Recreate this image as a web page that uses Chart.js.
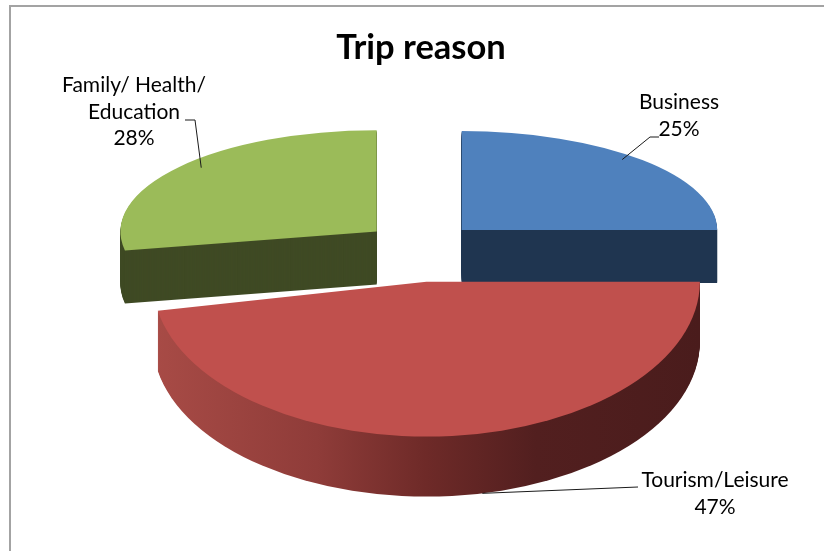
<!DOCTYPE html>
<html>
<head>
<meta charset="utf-8">
<script src="https://cdn.jsdelivr.net/npm/chart.js@4"></script>
<style>
  html, body { margin: 0; padding: 0; background: #ffffff; }
  #wrap { width: 824px; height: 551px; position: relative; }
  canvas { display: block; }
</style>
</head>
<body>
<div id="wrap"><canvas id="c" width="824" height="551"></canvas></div>
<script>
// ---- data ----
const categories = ['Business', 'Tourism/Leisure', 'Family/ Health/ Education'];
const labelNameLines = [['Business'], ['Tourism/Leisure'], ['Family/ Health/', 'Education']];
const values = [25, 47, 28];
const topColors = ['#4F81BD', '#C0504D', '#9BBB59'];
const sideColors = ['#1F3550', null, '#3F4A24'];
const redSideStops = [[0, '#A84B46'], [0.3, '#8F3C39'], [0.5, '#6E2A28'], [0.7, '#521F1F'], [1, '#4A1C1C']];

// ---- 3D look (styles) ----
const STYLE = { RX: 263, RY: 122.2, px: 0.04, py: 0.2685, explode: 57.5, ey: 1.072, D: 55.9, pd: 0.0735 };

// label layout: text centre x, first baseline y, line gap, leader elbow points, anchor tweak
const LABEL_LAYOUT = [
  { x: 679, y: 109, gap: 26.5, path: [[650, 137], [659, 137]], dAng: -3.6, f: 0.95 },
  { x: 715, y: 487, gap: 27, path: [[638, 487]], dAng: -6.4, f: 1.0 },
  { x: 134, y: 92, gap: 26.5, path: [[195, 120], [185, 120]], dAng: 3, f: 0.93 }
];

function geom(arc) {
  const m = (arc.startAngle + arc.endAngle) / 2;
  const k = Math.sin(m);
  const rx = STYLE.RX * (1 + STYLE.px * k);
  const ry = STYLE.RY * (1 + STYLE.py * k);
  const depth = Math.round(STYLE.D * (1 + STYLE.pd * k));
  const X = arc.x + STYLE.explode * Math.cos(m);
  const Y = arc.y + STYLE.explode * STYLE.ey * (ry / rx) * Math.sin(m);
  const R = arc.outerRadius;
  return { m, rx, ry, X, Y, sx: rx / R, sy: ry / R, R, depth };
}

function drawArcAs(arc, ctx, fill) {
  const proxy = Object.create(arc);
  proxy.options = Object.assign({}, arc.options, { backgroundColor: fill, borderColor: fill, borderWidth: 0, offset: 0, spacing: 0 });
  arc.draw.call(proxy, ctx);
}

const borderPlugin = {
  id: 'frame',
  beforeDraw(chart) {
    const ctx = chart.ctx;
    ctx.save();
    ctx.strokeStyle = '#A3A3A3';
    ctx.lineWidth = 2;
    ctx.strokeRect(10, 6, 900, 700);
    ctx.restore();
  }
};

const pie3d = {
  id: 'pie3d',
  beforeDatasetsDraw(chart) {
    const ctx = chart.ctx;
    const meta = chart.getDatasetMeta(0);
    const items = meta.data.map((arc, i) => ({ arc, i, g: geom(arc) }));
    items.sort((a, b) => a.g.Y - b.g.Y);
    for (const { arc, i, g } of items) {
      for (let d = g.depth; d >= 1; d--) {
        ctx.save();
        ctx.translate(g.X, g.Y + d);
        ctx.scale(g.sx, g.sy);
        ctx.translate(-arc.x, -arc.y);
        let fill = sideColors[i];
        if (!fill) {
          const gr = ctx.createLinearGradient(arc.x - g.R, 0, arc.x + g.R, 0);
          redSideStops.forEach(s => gr.addColorStop(s[0], s[1]));
          fill = gr;
        }
        drawArcAs(arc, ctx, fill);
        ctx.restore();
      }
      ctx.save();
      ctx.translate(g.X, g.Y);
      ctx.scale(g.sx, g.sy);
      ctx.translate(-arc.x, -arc.y);
      drawArcAs(arc, ctx, topColors[i]);
      ctx.restore();
    }
    return false;
  },
  afterDraw(chart) {
    const ctx = chart.ctx;
    const meta = chart.getDatasetMeta(0);
    ctx.save();
    meta.data.forEach((arc, i) => {
      const g = geom(arc);
      const lay = LABEL_LAYOUT[i];
      const a = g.m + lay.dAng * Math.PI / 180;
      const sx = g.X + g.rx * Math.cos(a) * lay.f;
      const sy = g.Y + g.ry * Math.sin(a) * lay.f + (Math.sin(g.m) > 0.5 ? g.depth : 0);
      ctx.strokeStyle = '#1a1a1a';
      ctx.lineWidth = 1;
      ctx.beginPath();
      ctx.moveTo(sx, sy);
      lay.path.forEach(p => ctx.lineTo(p[0], p[1]));
      ctx.stroke();
      const lines = labelNameLines[i].concat([values[i] + '%']);
      ctx.fillStyle = '#000';
      ctx.font = '21px Lato';
      ctx.textAlign = 'center';
      ctx.textBaseline = 'alphabetic';
      lines.forEach((t, j) => ctx.fillText(t, lay.x, lay.y + j * lay.gap));
    });
    ctx.restore();
  }
};

new Chart(document.getElementById('c'), {
  type: 'pie',
  data: {
    labels: categories,
    datasets: [{ data: values, backgroundColor: topColors, borderWidth: 0 }]
  },
  options: {
    responsive: false,
    animation: false,
    events: [],
    layout: { padding: { left: 18, right: 0, top: 0, bottom: 135.4 } },
    plugins: {
      legend: { display: false },
      tooltip: { enabled: false },
      title: {
        display: true,
        text: 'Trip reason',
        color: '#000',
        font: { family: 'Lato', size: 34.5, weight: 'bold', lineHeight: 1.2 },
        padding: { top: 27, bottom: 10 }
      }
    }
  },
  plugins: [borderPlugin, pie3d]
});
</script>
</body>
</html>
